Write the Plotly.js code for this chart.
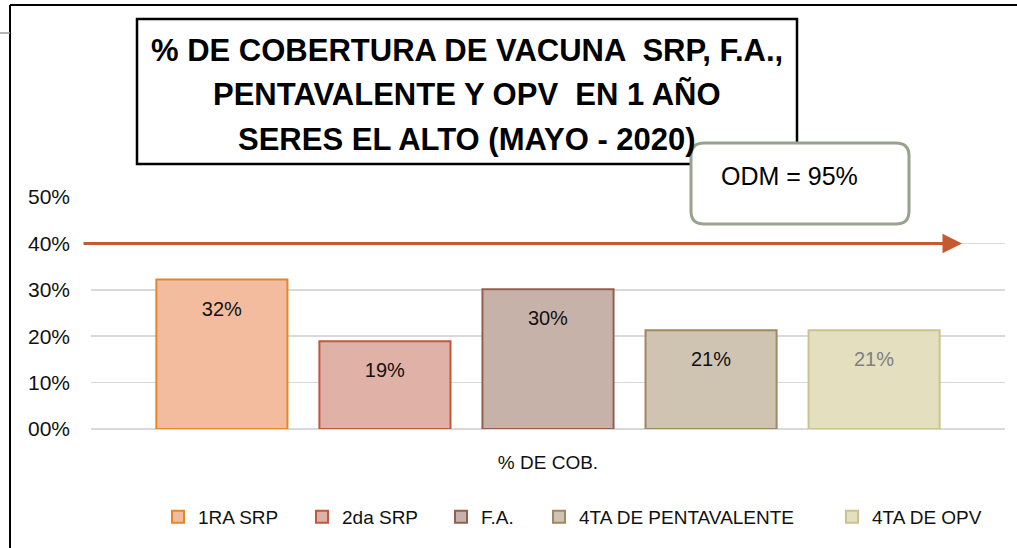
<!DOCTYPE html>
<html>
<head>
<meta charset="utf-8">
<script src="https://cdn.plot.ly/plotly-3.0.1.min.js"></script>
<style>
html,body{margin:0;padding:0;background:#fff;}
#chart{width:1017px;height:548px;}
</style>
</head>
<body>
<div id="chart"></div>
<script>
const categories = ['% DE COB.'];
const seriesNames = ['1RA SRP', '2da SRP', 'F.A.', '4TA DE PENTAVALENTE', '4TA DE OPV'];
const seriesValues = [0.322, 0.189, 0.301, 0.213, 0.213];
const tickValues = [0, 0.1, 0.2, 0.3, 0.4, 0.5];
const tickLabels = ['00%', '10%', '20%', '30%', '40%', '50%'];
const goalValue = 0.4;
const goalLabel = 'ODM = 95%';
const titleLines = ['% DE COBERTURA DE VACUNA  SRP, F.A.,', 'PENTAVALENTE Y OPV  EN 1 AÑO', 'SERES EL ALTO (MAYO - 2020)'];

const fillColors = ['#F4BC9F', '#E0B1A6', '#C7B2AA', '#CFC3B1', '#E3DFBF'];
const lineColors = ['#E3872A', '#C0583C', '#92604F', '#A08862', '#CAC38F'];
const textColors = ['#111111', '#111111', '#111111', '#111111', '#808080'];

const FONT = '"Liberation Sans", Arial, sans-serif';

// pixel geometry helpers (plot area)
const W = 1017, H = 548;
const M = {l: 91, r: 12, t: 197, b: 119};
const PW = W - M.l - M.r, PH = H - M.t - M.b;
const px = x => (x - M.l) / PW;
const py = y => (H - M.b - y) / PH;

// legend text start positions (pixels) for each series' legend entry
const legendTextStarts = [197, 341, 480, 578, 871];
const legendKeys = seriesNames.map((_, i) => i === 0 ? 'legend' : 'legend' + (i + 1));

const traces = seriesNames.map((name, i) => ({
  type: 'bar',
  name: name,
  x: categories,
  y: [seriesValues[i]],
  legend: legendKeys[i],
  marker: {color: fillColors[i], line: {color: lineColors[i], width: 2}},
  texttemplate: '<span style="font-size:8px"> </span><br>%{y:.0%}',
  textposition: 'inside',
  insidetextanchor: 'end',
  textangle: 0,
  textfont: {family: FONT, size: 20, color: textColors[i]},
  hoverinfo: 'skip'
}));

function roundedRect(x0, y0, x1, y1, r) {
  const X = v => px(v).toFixed(5), Y = v => py(v).toFixed(5);
  return `M ${X(x0 + r)} ${Y(y0)} L ${X(x1 - r)} ${Y(y0)} Q ${X(x1)} ${Y(y0)} ${X(x1)} ${Y(y0 + r)} ` +
    `L ${X(x1)} ${Y(y1 - r)} Q ${X(x1)} ${Y(y1)} ${X(x1 - r)} ${Y(y1)} L ${X(x0 + r)} ${Y(y1)} ` +
    `Q ${X(x0)} ${Y(y1)} ${X(x0)} ${Y(y1 - r)} L ${X(x0)} ${Y(y0 + r)} Q ${X(x0)} ${Y(y0)} ${X(x0 + r)} ${Y(y0)} Z`;
}

const layout = {
  width: W, height: H,
  margin: M,
  paper_bgcolor: '#ffffff',
  plot_bgcolor: '#ffffff',
  barmode: 'group',
  bargap: 0.108,
  bargroupgap: 0.196,
  showlegend: true,
  xaxis: {
    showticklabels: false, showgrid: false, zeroline: false, showline: false, ticks: '',
    title: {text: categories[0], font: {family: FONT, size: 19, color: '#111111'}, standoff: 26}
  },
  yaxis: {
    range: [0, 0.5], tickvals: tickValues, ticktext: tickLabels,
    tickfont: {family: FONT, size: 21, color: '#111111'},
    showgrid: true, gridcolor: '#D9D9D9', gridwidth: 1.5,
    zeroline: true, zerolinecolor: '#D9D9D9', zerolinewidth: 1.5,
    ticks: '', ticklabelstandoff: 20, showline: false, fixedrange: true
  },
  shapes: [
    {type: 'line', xref: 'paper', yref: 'paper', x0: px(10), x1: px(10), y0: py(5), y1: py(560), line: {color: '#000000', width: 2}},
    {type: 'line', xref: 'paper', yref: 'paper', x0: px(10), x1: px(1030), y0: py(5), y1: py(5), line: {color: '#000000', width: 2}},
    {type: 'line', xref: 'paper', yref: 'paper', x0: px(-5), x1: px(10), y0: py(33), y1: py(33), line: {color: '#9a9a9a', width: 1.5}},
    {type: 'rect', xref: 'paper', yref: 'paper', x0: px(137), x1: px(797), y0: py(19), y1: py(164), line: {color: '#000000', width: 2.5}, fillcolor: 'rgba(255,255,255,0)'},
    {type: 'path', xref: 'paper', yref: 'paper', path: roundedRect(691, 143, 909, 224, 13), line: {color: '#98A38B', width: 3}, fillcolor: '#ffffff', layer: 'above'}
  ],
  annotations: [
    {xref: 'paper', yref: 'y', x: px(962), y: goalValue, ax: -(962 - 82), ay: 0, axref: 'pixel', ayref: 'pixel',
      text: '', showarrow: true, arrowhead: 2, arrowsize: 1.3, arrowwidth: 3, arrowcolor: '#C55A2F', standoff: 0},
    {xref: 'paper', yref: 'paper', x: px(719), y: py(176), xanchor: 'left', yanchor: 'middle',
      text: goalLabel, showarrow: false, font: {family: FONT, size: 25, color: '#000000'}}
  ]
};

const titleYs = [50, 95, 139];
titleLines.forEach((t, i) => {
  layout.annotations.push({xref: 'paper', yref: 'paper', x: px(467), y: py(titleYs[i]), xanchor: 'center', yanchor: 'middle',
    text: '<b>' + t + '</b>', showarrow: false, font: {family: FONT, size: 31, color: '#000000'}});
});

legendKeys.forEach((k, i) => {
  layout[k] = {
    orientation: 'h', x: px(legendTextStarts[i] - 39), xanchor: 'left', y: py(517), yanchor: 'middle',
    font: {family: FONT, size: 19, color: '#111111'}, itemwidth: 30, bgcolor: 'rgba(0,0,0,0)'
  };
});

Plotly.newPlot('chart', traces, layout, {displayModeBar: false, staticPlot: true});
</script>
</body>
</html>
